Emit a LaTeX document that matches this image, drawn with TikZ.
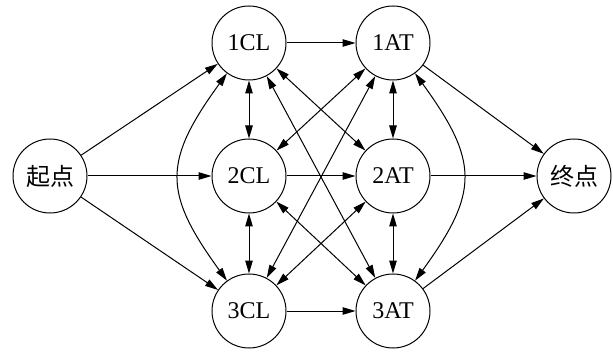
\documentclass[tikz,border=0pt]{standalone}
\usepackage{fontspec}
\setmainfont{Liberation Serif}
\newfontfamily\cjk{Noto Sans CJK SC}
\usetikzlibrary{arrows.meta}
\begin{document}
\begin{tikzpicture}[x=1pt,y=1pt,
    tip/.tip={Triangle[length=13pt,width=7.5pt]},
    state/.style={draw,circle,line width=1pt,minimum size=74pt,inner sep=0pt,
                  font=\fontsize{24}{24}\selectfont},
    link/.style={line width=1pt,-tip},
    dlink/.style={line width=1pt,tip-tip}]
  \useasboundingbox (0,0) rectangle (613,351);

  % states
  \node[state] (s)  at (50,175)  {\cjk 起点};
  \node[state] (c1) at (249,308) {1CL};
  \node[state] (c2) at (249,175) {2CL};
  \node[state] (c3) at (249,40)  {3CL};
  \node[state] (a1) at (393,308) {1AT};
  \node[state] (a2) at (393,175) {2AT};
  \node[state] (a3) at (393,40)  {3AT};
  \node[state] (e)  at (574,175) {\cjk 终点};

  % from the start
  \draw[link] (s) -- (c1);
  \draw[link] (s) -- (c2);
  \draw[link] (s) -- (c3);

  % CL to AT on the same level
  \draw[link] (c1) -- (a1);
  \draw[link] (c2) -- (a2);
  \draw[link] (c3) -- (a3);

  % to the end
  \draw[link] (a1) -- (e);
  \draw[link] (a2) -- (e);
  \draw[link] (a3) -- (e);

  % within each column
  \draw[dlink] (c1) -- (c2);
  \draw[dlink] (c2) -- (c3);
  \draw[dlink] (a1) -- (a2);
  \draw[dlink] (a2) -- (a3);
  \draw[dlink] (c1) to[out=234,in=126,looseness=1.35] (c3);
  \draw[dlink] (a1) to[out=306,in=54,looseness=1.35] (a3);

  % across the columns
  \draw[dlink] (c1) -- (a2);
  \draw[dlink] (c1) -- (a3);
  \draw[dlink] (c2) -- (a1);
  \draw[dlink] (c2) -- (a3);
  \draw[dlink] (c3) -- (a1);
  \draw[dlink] (c3) -- (a2);
\end{tikzpicture}
\end{document}
